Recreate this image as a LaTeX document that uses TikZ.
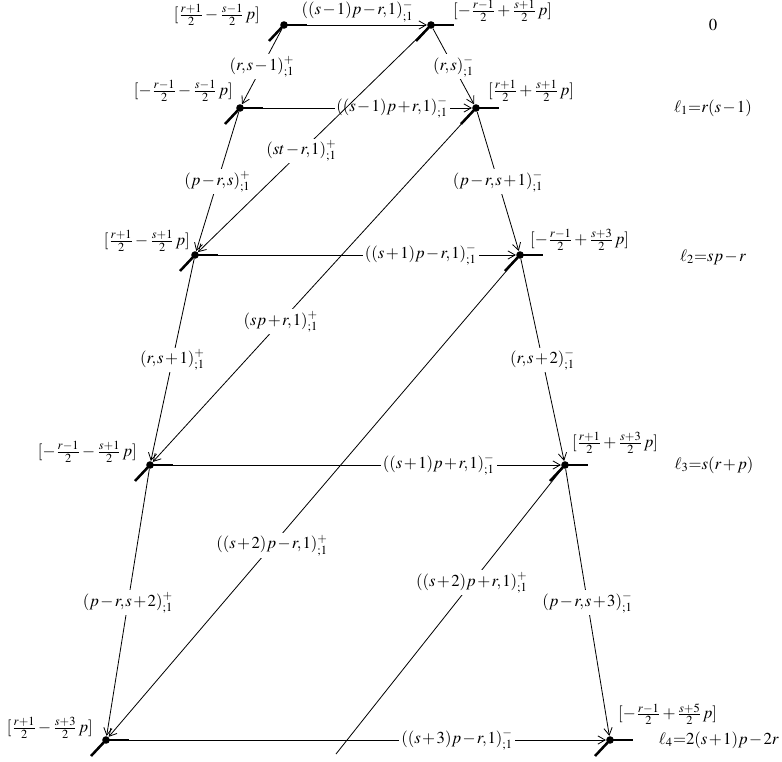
\documentclass[tikz,border=0pt]{standalone}
\usepackage{mathptmx}
\usetikzlibrary{arrows.meta}
\thinmuskip=1mu
\medmuskip=1.5mu
\thickmuskip=1.5mu

\begin{document}
\begin{tikzpicture}[
      x=0.555pt, y=-0.555pt,
      font=\fontsize{9.3}{11}\selectfont,
      dot/.style={circle, fill, inner sep=0pt, minimum size=4.2pt},
      edge/.style={-{Straight Barb[length=4pt, width=4.6pt]}, line width=0.45pt},
      stub/.style={line width=1.4pt},
      lbl/.style={fill=white, inner sep=1pt},
      vlbl/.style={inner sep=1pt},
   ]
      \useasboundingbox (0,0) rectangle (782,762);

      % vertices
      \node[dot] (L0) at (284,25) {};
      \node[dot] (R0) at (431,25) {};
      \node[dot] (L1) at (240,108) {};
      \node[dot] (R1) at (476,108) {};
      \node[dot] (L2) at (195,255) {};
      \node[dot] (R2) at (520,255) {};
      \node[dot] (L3) at (150,465) {};
      \node[dot] (R3) at (565,465) {};
      \node[dot] (L4) at (106,740) {};
      \node[dot] (R4) at (610,740) {};
      \coordinate (E) at (336,754);

      % vertex values
      \node[vlbl, anchor=east] (vL0) at (262,15) {$[\frac{r+1}{2}-\frac{s-1}{2}\,p]$};
      \node[vlbl, anchor=west] (vR0) at (451,11) {$[-\frac{r-1}{2}+\frac{s+1}{2}\,p]$};
      \node[vlbl, anchor=east] (vL1) at (235,91) {$[-\frac{r-1}{2}-\frac{s-1}{2}\,p]$};
      \node[vlbl, anchor=west] (vR1) at (486,91) {$[\frac{r+1}{2}+\frac{s+1}{2}\,p]$};
      \node[vlbl, anchor=east] (vL2) at (192,241) {$[\frac{r+1}{2}-\frac{s+1}{2}\,p]$};
      \node[vlbl, anchor=west] (vR2) at (528,240) {$[-\frac{r-1}{2}+\frac{s+3}{2}\,p]$};
      \node[vlbl, anchor=east] (vL3) at (139,452) {$[-\frac{r-1}{2}-\frac{s+1}{2}\,p]$};
      \node[vlbl, anchor=west] (vR3) at (570,443) {$[\frac{r+1}{2}+\frac{s+3}{2}\,p]$};
      \node[vlbl, anchor=east] (vL4) at (95,728) {$[\frac{r+1}{2}-\frac{s+3}{2}\,p]$};
      \node[vlbl, anchor=west] (vR4) at (616,714) {$[-\frac{r-1}{2}+\frac{s+5}{2}\,p]$};

      % levels
      \node (l0) at (713,25) {$0$};
      \node (l1) at (713,108) {$\ell_1{=}r(s-1)$};
      \node (l2) at (713,257) {$\ell_2{=}sp-r$};
      \node (l3) at (714,465) {$\ell_3{=}s(r+p)$};
      \node[anchor=east, inner sep=1pt] (l4) at (781,740) {$\ell_4{=}2(s+1)p-2r$};

      % horizontal edges
      \draw[edge] (L0) -- node[above, inner sep=1.5pt] {$((s-1)p-r,1)^{-}_{;1}$} (R0);
      \draw[edge] (L1) -- node[lbl, pos=0.65] {$((s-1)p+r,1)^{-}_{;1}$} (R1);
      \draw[edge] (L2) -- node[lbl, pos=0.70] {$((s+1)p-r,1)^{-}_{;1}$} (R2);
      \draw[edge] (L3) -- node[lbl, pos=0.70] {$((s+1)p+r,1)^{-}_{;1}$} (R3);
      \draw[edge] (L4) -- node[lbl, pos=0.70] {$((s+3)p-r,1)^{-}_{;1}$} (R4);

      % left column
      \draw[edge] (L0) -- node[lbl] {$(r,s-1)^{+}_{;1}$} (L1);
      \draw[edge] (L1) -- node[lbl] {$(p-r,s)^{+}_{;1}$} (L2);
      \draw[edge] (L2) -- node[lbl] {$(r,s+1)^{+}_{;1}$} (L3);
      \draw[edge] (L3) -- node[lbl] {$(p-r,s+2)^{+}_{;1}$} (L4);

      % right column
      \draw[edge] (R0) -- node[lbl] {$(r,s)^{-}_{;1}$} (R1);
      \draw[edge] (R1) -- node[lbl] {$(p-r,s+1)^{-}_{;1}$} (R2);
      \draw[edge] (R2) -- node[lbl] {$(r,s+2)^{-}_{;1}$} (R3);
      \draw[edge] (R3) -- node[lbl] {$(p-r,s+3)^{-}_{;1}$} (R4);

      % diagonals
      \draw[edge] (R0) -- node[lbl, pos=0.55] {$(st-r,1)^{+}_{;1}$} (L2);
      \draw[edge] (R1) -- node[lbl, pos=0.60] {$(sp+r,1)^{+}_{;1}$} (L3);
      \draw[edge] (R2) -- node[lbl, pos=0.60] {$((s+2)p-r,1)^{+}_{;1}$} (L4);
      \draw[line width=0.45pt] (R3) -- node[lbl, pos=0.40] {$((s+2)p+r,1)^{+}_{;1}$} (E);

      % stubs at the vertices
      \foreach \v in {L0,R0,L1,R1,L2,R2,L3,R3,L4,R4} {
         \draw[stub] (\v.center) -- ++(23,0);
         \draw[stub] (\v.center) -- ++(-15,16);
      }
   \end{tikzpicture}
\end{document}
